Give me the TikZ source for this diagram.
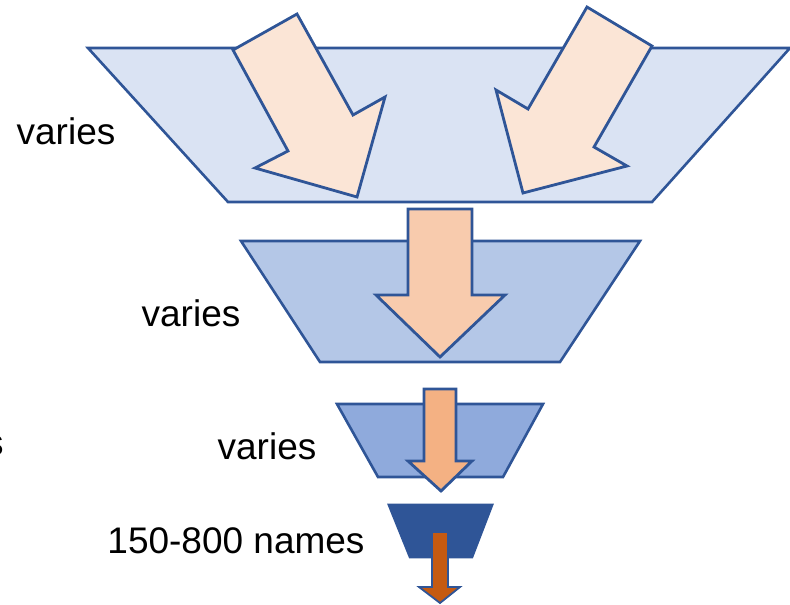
\documentclass[tikz,border=0pt]{standalone}
\usepackage{fontspec}
\setmainfont{Liberation Sans}
\definecolor{edge}{HTML}{2F5597}
\definecolor{layerA}{HTML}{DAE3F3}
\definecolor{layerB}{HTML}{B4C7E7}
\definecolor{layerC}{HTML}{8FAADC}
\definecolor{layerD}{HTML}{2F5597}
\definecolor{flowA}{HTML}{FBE5D6}
\definecolor{flowB}{HTML}{F8CBAD}
\definecolor{flowC}{HTML}{F4B183}
\definecolor{flowD}{HTML}{C55A11}
\tikzset{
  layer/.style={draw=edge, line width=1.3pt, line join=miter},
  flow/.style={draw=edge, line width=1.4pt, line join=miter},
  label/.style={font=\fontsize{18.5}{22}\selectfont, text=black, inner sep=0pt}
}
\begin{document}
\begin{tikzpicture}[x=0.5pt, y=-0.5pt]
  \useasboundingbox (0,0) rectangle (790,604);

  % stage 1: wide intake layer with two converging arrows
  \draw[layer, fill=layerA] (88,48) -- (790,48) -- (652,202) -- (228,202) -- cycle;
  \draw[flow, fill=flowA] (297,14) -- (233,50) -- (288,151) -- (255,168)
        -- (357,197) -- (385,97) -- (353,115) -- cycle;
  \draw[flow, fill=flowA] (587,7) -- (652,46) -- (594,147) -- (627,166)
        -- (523,193) -- (496,90) -- (528,109) -- cycle;

  % stage 2
  \draw[layer, fill=layerB] (241,241) -- (640,241) -- (560,362) -- (320,362) -- cycle;
  \draw[flow, fill=flowB] (408,209) -- (472,209) -- (472,295) -- (505,295)
        -- (440,357) -- (376,295) -- (408,295) -- cycle;

  % stage 3
  \draw[layer, fill=layerC] (337,404) -- (543,404) -- (503,477) -- (378,477) -- cycle;
  \draw[flow, fill=flowC] (424,389) -- (456,389) -- (456,461) -- (472,461)
        -- (441,491) -- (408,461) -- (424,461) -- cycle;

  % stage 4: final narrow layer
  \draw[layer, fill=layerD] (389,505) -- (492,505) -- (472,557) -- (410,557) -- cycle;
  \draw[flow, fill=flowD, line width=0.9pt] (432,532) -- (448,532) -- (448,587) -- (460,587)
        -- (440,603) -- (419,587) -- (432,587) -- cycle;

  % stage labels
  \node[label] (l1) at (66,131) {varies};
  \node[label] (l2) at (191,313) {varies};
  \node[label] (l3) at (267,446) {varies};
  \node[label] (l4) at (236,541) {150-800 names};
  \begin{scope}
    \clip (0,0) rectangle (790,604);
    \node[label, anchor=east] (l0) at (4,446) {names};
  \end{scope}
\end{tikzpicture}
\end{document}
